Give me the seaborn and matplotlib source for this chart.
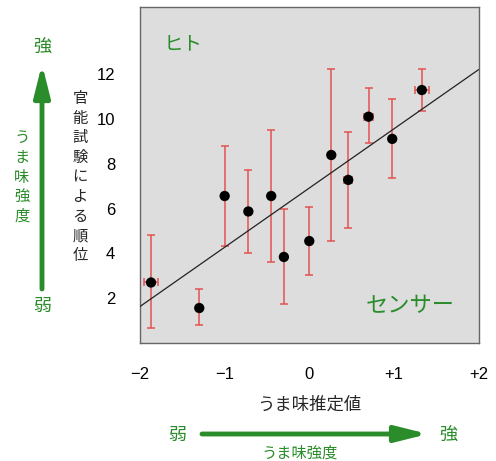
import numpy as np
import pandas as pd
import matplotlib
matplotlib.use("Agg")
import matplotlib.pyplot as plt
import seaborn as sns

# umami estimate (sensor) vs sensory ranking (human)
sensor_x = [-1.87, -1.30, -1.00, -0.72, -0.45, -0.30, 0.00, 0.26, 0.46, 0.70, 0.98, 1.33]
rank_y = [2.70, 1.56, 6.56, 5.87, 6.56, 3.84, 4.55, 8.39, 7.28, 10.10, 9.11, 11.29]
err_upper = [4.80, 2.39, 8.80, 7.72, 9.50, 5.96, 6.08, 12.25, 9.42, 11.36, 10.90, 12.25]
err_lower = [0.65, 0.79, 4.33, 4.00, 3.62, 1.73, 3.04, 4.55, 5.13, 8.91, 7.38, 10.34]
err_x = [0.08, 0, 0, 0, 0, 0, 0, 0, 0.05, 0.05, 0, 0.08]
fit_x = [-2.0, 2.0]
fit_y = [1.63, 12.20]

x_ticks = [-2, -1, 0, 1, 2]
x_labels = ["\u22122", "\u22121", "0", "+1", "+2"]
y_ticks = [2, 4, 6, 8, 10, 12]

df = pd.DataFrame({"x": sensor_x, "y": rank_y})
yerr = np.array([np.array(rank_y) - np.array(err_lower),
                 np.array(err_upper) - np.array(rank_y)])

sns.set_theme(style="white")
plt.rcParams["font.family"] = ["Noto Sans CJK JP", "DejaVu Sans"]

GREEN = "#2a8c2a"
RED = "#e25252"

fig = plt.figure(figsize=(4.96, 4.61), dpi=100)
ax = fig.add_axes([0.2823, 0.256, 0.6825, 0.729])
ax.set_facecolor("#dcdddc")

ax.errorbar(sensor_x, rank_y, yerr=yerr, xerr=err_x, fmt="none",
            ecolor=RED, elinewidth=1.1, capsize=3, capthick=1.1, zorder=2)
sns.lineplot(x=fit_x, y=fit_y, color="#222222", linewidth=0.9, ax=ax, zorder=3)
sns.scatterplot(data=df, x="x", y="y", color="black", s=55, edgecolor="none",
                ax=ax, zorder=4)

ax.set_xlim(-2, 2)
ax.set_ylim(0, 15)
ax.set_xticks(x_ticks)
ax.set_xticklabels(x_labels, fontfamily="Liberation Sans", fontsize=12)
ax.set_xticks(np.arange(-1.5, 2, 1.0), minor=True)
ax.set_yticks(y_ticks)
ax.set_yticklabels([str(v) for v in y_ticks], fontfamily="Liberation Sans", fontsize=12)
ax.set_yticks([1, 3, 5, 7, 9, 11, 13, 14], minor=True)
ax.tick_params(axis="both", which="both", direction="in", length=5,
               width=0.8, color="#555555", labelcolor="black")
ax.tick_params(axis="y", which="both", pad=18)
ax.tick_params(axis="x", which="both", pad=17)
for s in ax.spines.values():
    s.set_color("#666666")
    s.set_linewidth(1.0)

ax.set_xlabel("うま味推定値", fontsize=12.5, labelpad=10)
ax.set_ylabel("")

ax.text(0.07, 0.89, "ヒト", transform=ax.transAxes, color=GREEN,
        fontsize=14, ha="left", va="center")
ax.text(0.93, 0.11, "センサー", transform=ax.transAxes, color=GREEN,
        fontsize=16, ha="right", va="center")

# vertical y label, one character per line
fig.text(80 / 496, 1 - 177 / 461, "\n".join("官能試験による順位"),
         fontsize=11, ha="center", va="center", linespacing=1.2)

arrow_style = dict(arrowstyle="-|>,head_length=1.6,head_width=0.4",
                   color=GREEN, lw=3.5, shrinkA=0, shrinkB=0)

# left green arrow
fig.text(42 / 496, 1 - 47 / 461, "強", color=GREEN, fontsize=13, ha="center", va="center")
fig.text(42 / 496, 1 - 306 / 461, "弱", color=GREEN, fontsize=13, ha="center", va="center")
fig.text(22 / 496, 1 - 177 / 461, "\n".join("うま味強度"), color=GREEN,
         fontsize=11, ha="center", va="center", linespacing=1.2)
ax.annotate("", xy=(42 / 496, 1 - 64 / 461), xytext=(42 / 496, 1 - 289 / 461),
            xycoords="figure fraction", textcoords="figure fraction",
            arrowprops=arrow_style)

# bottom green arrow
fig.text(177 / 496, 1 - 435 / 461, "弱", color=GREEN, fontsize=13, ha="center", va="center")
fig.text(448 / 496, 1 - 435 / 461, "強", color=GREEN, fontsize=13, ha="center", va="center")
fig.text(300 / 496, 1 - 453 / 461, "うま味強度", color=GREEN, fontsize=11,
         ha="center", va="center")
ax.annotate("", xy=(428 / 496, 1 - 434 / 461), xytext=(202 / 496, 1 - 434 / 461),
            xycoords="figure fraction", textcoords="figure fraction",
            arrowprops=arrow_style)

fig.savefig("out.png", dpi=100, facecolor="white")
